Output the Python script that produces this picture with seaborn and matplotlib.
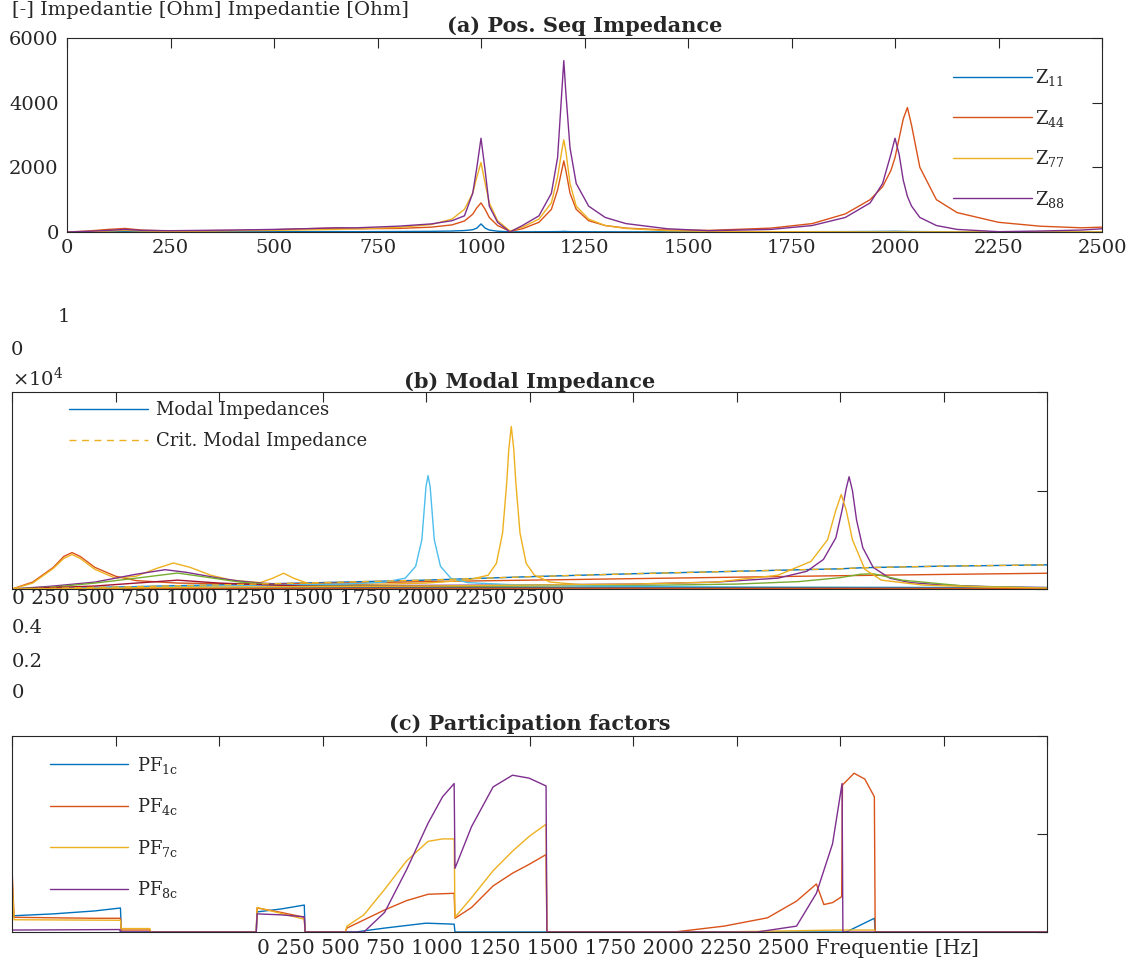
import matplotlib
matplotlib.use("Agg")
import matplotlib.pyplot as plt
import seaborn as sns

# ---------------- data ----------------
X_TICKS = [0, 250, 500, 750, 1000, 1250, 1500, 1750, 2000, 2250, 2500]

# (a) positive-sequence driving-point impedances [Ohm]
FREQ_A = [0, 50, 100, 140, 180, 250, 400, 500, 600, 650, 700, 800, 880, 930, 960,
          980, 990, 1000, 1010, 1020, 1040, 1070, 1100, 1140, 1170, 1185, 1195, 1200,
          1205, 1215, 1230, 1260, 1300, 1350, 1450, 1550, 1700, 1800, 1880, 1940,
          1970, 1990, 2000, 2010, 2020, 2030, 2040, 2060, 2100, 2150, 2250, 2350,
          2450, 2500]
Z11 = [0, 5, 10, 15, 10, 5, 5, 8, 10, 12, 10, 15, 20, 30, 45, 70, 120, 250, 120, 60,
       25, 5, 5, 8, 10, 12, 15, 20, 15, 12, 10, 8, 6, 5, 5, 5, 8, 10, 12, 15, 18, 20,
       22, 20, 18, 16, 14, 12, 10, 8, 6, 5, 5, 5]
Z44 = [0, 30, 80, 110, 60, 30, 50, 70, 110, 120, 100, 110, 150, 220, 340, 550, 750,
       900, 700, 450, 200, 20, 100, 300, 700, 1300, 1900, 2200, 1900, 1200, 700, 350,
       200, 120, 60, 50, 120, 260, 560, 1000, 1400, 1900, 2300, 2900, 3500, 3850,
       3300, 2000, 1000, 600, 300, 180, 130, 150]
Z77 = [0, 10, 30, 50, 30, 20, 40, 50, 70, 80, 100, 140, 230, 400, 700, 1200, 1700,
       2150, 1500, 900, 350, 30, 150, 400, 900, 1700, 2500, 2850, 2500, 1500, 800, 400,
       200, 110, 40, 20, 10, 8, 6, 5, 5, 5, 5, 5, 5, 5, 5, 5, 5, 5, 5, 5, 5, 5]
Z88 = [0, 20, 50, 80, 50, 40, 60, 80, 110, 130, 130, 180, 250, 350, 500, 1200, 2000,
       2900, 1900, 800, 300, 0, 200, 500, 1200, 2300, 4300, 5300, 4300, 2600, 1500,
       800, 450, 260, 100, 40, 80, 200, 450, 900, 1500, 2400, 2900, 2400, 1600, 1100,
       800, 450, 200, 80, 10, 30, 60, 100]

# (b) modal impedances [Ohm]
M1_F = [0, 250, 500, 750, 1000, 1250, 1500, 1750, 2000, 2050, 2100, 2250, 2500]
M1_Z = [0, 200, 420, 650, 900, 1250, 1550, 1800, 2050, 2150, 2200, 2320, 2450]
M2_F = [0, 50, 100, 125, 145, 165, 200, 250, 300, 400, 600, 800, 1000, 1250, 1500,
        1750, 2000, 2250, 2500]
M2_Z = [0, 700, 2200, 3300, 3700, 3300, 2200, 1300, 850, 600, 500, 600, 750, 900,
        1050, 1200, 1350, 1480, 1600]
M3_F = [0, 50, 100, 125, 145, 165, 200, 250, 300, 350, 390, 430, 480, 530, 600, 630,
        656, 680, 720, 800, 900, 1000, 1100, 1150, 1170, 1185, 1195, 1200, 1206, 1212,
        1217, 1227, 1242, 1262, 1300, 1400, 1500, 1700, 2000, 2500]
M3_Z = [0, 600, 2100, 3100, 3500, 3100, 2000, 1100, 1300, 2100, 2640, 2200, 1400, 900,
        650, 1100, 1600, 1100, 500, 450, 500, 600, 900, 1400, 2600, 5700, 10800, 14200,
        16500, 14200, 10800, 5700, 2600, 1400, 700, 350, 250, 180, 150, 100]
M4_F = [0, 100, 200, 300, 370, 420, 500, 550, 600, 700, 900, 1200, 1500, 1700, 1850,
        1920, 1960, 1990, 2005, 2015, 2022, 2030, 2040, 2055, 2080, 2120, 2170, 2250,
        2350, 2500]
M4_Z = [0, 300, 700, 1500, 1960, 1700, 1100, 800, 600, 400, 350, 400, 500, 700, 1100,
        1800, 3000, 5200, 8000, 10200, 11400, 10000, 7000, 4200, 2200, 1100, 650, 400,
        250, 150]
M5_F = [0, 100, 200, 300, 400, 470, 550, 650, 800, 1000, 1250, 1500, 1750, 1900, 2000,
        2050, 2080, 2150, 2300, 2500]
M5_Z = [0, 200, 600, 1100, 1620, 1200, 700, 400, 300, 250, 300, 350, 500, 750, 1150,
        1500, 1550, 900, 300, 100]
M6_F = [0, 500, 800, 900, 950, 975, 990, 1000, 1005, 1010, 1020, 1035, 1060, 1100,
        1200, 1400, 1800, 2500]
M6_Z = [0, 300, 500, 700, 1100, 2300, 5000, 10400, 11500, 10400, 5000, 2300, 1100,
        650, 450, 300, 200, 150]
M7_F = [0, 200, 300, 400, 500, 700, 1000, 1500, 2000, 2500]
M7_Z = [0, 300, 600, 900, 600, 300, 150, 100, 80, 50]
M8_F = [0, 500, 1000, 1500, 2000, 2500]
M8_Z = [0, 100, 150, 150, 100, 80]
M9_F = [0, 500, 1000, 1500, 2000, 2500]
M9_Z = [0, 60, 80, 80, 60, 50]
M10_F = [0, 500, 1000, 1500, 1700, 1850, 1930, 1970, 1990, 2003, 2015, 2030, 2060,
         2100, 2200, 2350, 2500]
M10_Z = [0, 200, 300, 500, 700, 1400, 2800, 5000, 8000, 9600, 8000, 5000, 2000, 900,
         400, 200, 100]

# (c) participation factors of the critical mode
PF1_F = [0, 100, 200, 262, 264, 590, 592, 650, 706, 708, 830, 900, 1000, 1068, 1070,
         2015, 2083, 2085, 2500]
PF1_V = [0.033, 0.037, 0.043, 0.049, 0, 0, 0.041, 0.047, 0.055, 0, 0, 0.008, 0.018,
         0.016, 0, 0, 0.028, 0, 0]
PF4_F = [0, 5, 100, 200, 262, 264, 333, 335, 590, 592, 650, 706, 708, 805, 809, 900,
         953, 1005, 1068, 1070, 1110, 1162, 1209, 1249, 1290, 1292, 1600, 1720, 1825,
         1895, 1943, 1961, 1982, 2004, 2006, 2034, 2060, 2083, 2085, 2500]
PF4_V = [0.13, 0.030, 0.029, 0.028, 0.028, 0.004, 0.004, 0, 0, 0.049, 0.040, 0.030,
         0, 0, 0.008, 0.045, 0.064, 0.077, 0.079, 0.028, 0.050, 0.094, 0.12, 0.138,
         0.158, 0, 0, 0.012, 0.029, 0.063, 0.098, 0.056, 0.060, 0.072, 0.300, 0.324,
         0.312, 0.276, 0, 0]
PF7_F = [0, 5, 262, 264, 333, 335, 590, 592, 650, 706, 708, 805, 809, 850, 900, 953,
         1005, 1040, 1068, 1070, 1110, 1162, 1209, 1249, 1290, 1292, 1700, 2000, 2083,
         2085, 2500]
PF7_V = [0.11, 0.025, 0.024, 0.007, 0.007, 0, 0, 0.050, 0.038, 0.026, 0, 0, 0.012,
         0.035, 0.087, 0.145, 0.185, 0.190, 0.190, 0.030, 0.070, 0.125, 0.165, 0.195,
         0.220, 0, 0, 0.004, 0.004, 0, 0]
PF8_F = [0, 260, 262, 590, 592, 650, 706, 708, 850, 900, 953, 1005, 1040, 1068, 1070,
         1110, 1162, 1209, 1249, 1290, 1292, 1800, 1895, 1943, 1982, 2005, 2007, 2500]
PF8_V = [0.004, 0.005, 0, 0, 0.037, 0.035, 0.031, 0, 0, 0.04, 0.127, 0.222, 0.276,
         0.303, 0.130, 0.215, 0.296, 0.320, 0.314, 0.298, 0, 0, 0.012, 0.079, 0.180,
         0.303, 0, 0]

# MATLAB default colour order
BLUE, ORANGE, YELLOW, PURPLE = "#0072BD", "#D95319", "#EDB120", "#7E2F8E"
GREEN, LIGHTBLUE, DARKRED = "#77AC30", "#4DBEEE", "#A2142F"
INK = "#262626"

# ---------------- style ----------------
sns.set_style("white")
plt.rcParams.update({
    "font.family": ["DejaVu Serif"],
    "mathtext.fontset": "dejavuserif",
    "axes.edgecolor": INK,
    "axes.linewidth": 0.8,
    "text.color": INK,
})

W, H = 1134, 967
fig = plt.figure(figsize=(W / 100, H / 100), dpi=100)


def box(left, top, right, bottom):
    return [left / W, 1 - bottom / H, (right - left) / W, (bottom - top) / H]


ax_a = fig.add_axes(box(67, 38, 1102, 232))
ax_b = fig.add_axes(box(12, 392, 1047, 589))
ax_c = fig.add_axes(box(12, 736, 1047, 932))

LW = 1.0


def line(ax, x, y, color, label=None, **kw):
    sns.lineplot(x=x, y=y, ax=ax, color=color, lw=LW, label=label,
                 sort=False, estimator=None, **kw)


# (a)
line(ax_a, FREQ_A, Z11, BLUE, r"Z$_{\mathregular{11}}$")
line(ax_a, FREQ_A, Z44, ORANGE, r"Z$_{\mathregular{44}}$")
line(ax_a, FREQ_A, Z77, YELLOW, r"Z$_{\mathregular{77}}$")
line(ax_a, FREQ_A, Z88, PURPLE, r"Z$_{\mathregular{88}}$")

# (b)
line(ax_b, M1_F, M1_Z, BLUE, "Modal Impedances")
line(ax_b, M2_F, M2_Z, ORANGE)
line(ax_b, M3_F, M3_Z, YELLOW)
line(ax_b, M4_F, M4_Z, PURPLE)
line(ax_b, M5_F, M5_Z, GREEN)
line(ax_b, M6_F, M6_Z, LIGHTBLUE)
line(ax_b, M7_F, M7_Z, DARKRED)
line(ax_b, M8_F, M8_Z, BLUE)
line(ax_b, M9_F, M9_Z, ORANGE)
line(ax_b, M10_F, M10_Z, YELLOW)
line(ax_b, M1_F, M1_Z, YELLOW, "Crit. Modal Impedance", linestyle=(0, (5, 4)))

# (c)
line(ax_c, PF1_F, PF1_V, BLUE, r"PF$_{\mathregular{1c}}$")
line(ax_c, PF4_F, PF4_V, ORANGE, r"PF$_{\mathregular{4c}}$")
line(ax_c, PF7_F, PF7_V, YELLOW, r"PF$_{\mathregular{7c}}$")
line(ax_c, PF8_F, PF8_V, PURPLE, r"PF$_{\mathregular{8c}}$")

FS = 14
for ax in (ax_a, ax_b, ax_c):
    ax.set_xlim(0, 2500)
    ax.set_xticks(X_TICKS)
    ax.set_xlabel("")
    ax.set_ylabel("")
    for s in ax.spines.values():
        s.set_visible(True)
        s.set_color(INK)
        s.set_linewidth(0.8)
    ax.tick_params(direction="in", top=True, right=True, length=7, width=0.8,
                   colors=INK, labelsize=FS, pad=5)

ax_a.set_ylim(0, 6000)
ax_a.set_yticks([0, 2000, 4000, 6000])
ax_a.tick_params(axis="y", pad=6)

ax_b.set_ylim(0, 20000)
ax_b.set_yticks([0, 10000, 20000])
ax_b.tick_params(labelbottom=False, labelleft=False)

ax_c.set_ylim(0, 0.4)
ax_c.set_yticks([0, 0.2, 0.4])
ax_c.tick_params(labelbottom=False, labelleft=False)

ax_a.set_title("(a) Pos. Seq Impedance", fontweight="bold", fontsize=15, pad=4)
ax_b.set_title("(b) Modal Impedance", fontweight="bold", fontsize=15, pad=3)
ax_c.set_title("(c) Participation factors", fontweight="bold", fontsize=15, pad=4)

ax_a.legend(loc="upper left", bbox_to_anchor=(0.856, 0.85), frameon=False,
            fontsize=13, handlelength=4.4, handletextpad=0.17, labelspacing=1.08,
            borderpad=0, borderaxespad=0)
ax_b.legend(loc="upper left", bbox_to_anchor=(0.055, 0.955), frameon=False,
            fontsize=13, handlelength=4.4, handletextpad=0.4, labelspacing=0.72,
            borderpad=0, borderaxespad=0)
ax_c.legend(loc="upper left", bbox_to_anchor=(0.0367, 0.905), frameon=False,
            fontsize=13, handlelength=4.3, handletextpad=0.5, labelspacing=1.14,
            borderpad=0, borderaxespad=0)


def ftext(x, y, s, **kw):
    kw.setdefault("fontsize", FS)
    kw.setdefault("va", "center")
    kw.setdefault("ha", "left")
    fig.text(x / W, 1 - y / H, s, **kw)


tick_string = " ".join(str(t) for t in X_TICKS)
ftext(12, 15, "[-] Impedantie [Ohm] Impedantie [Ohm]", va="baseline")
ftext(64, 317, "1", ha="center")
ftext(17, 350, "0", ha="center")
ftext(12, 378, r"×10$^{\mathregular{4}}$")
ftext(12, 598, tick_string, fontsize=14.5)
ftext(12, 628, "0.4")
ftext(12, 662, "0.2")
ftext(12, 693, "0")
ftext(257, 948, tick_string + " Frequentie [Hz]", fontsize=14.5)

fig.savefig("out.png", dpi=100)
